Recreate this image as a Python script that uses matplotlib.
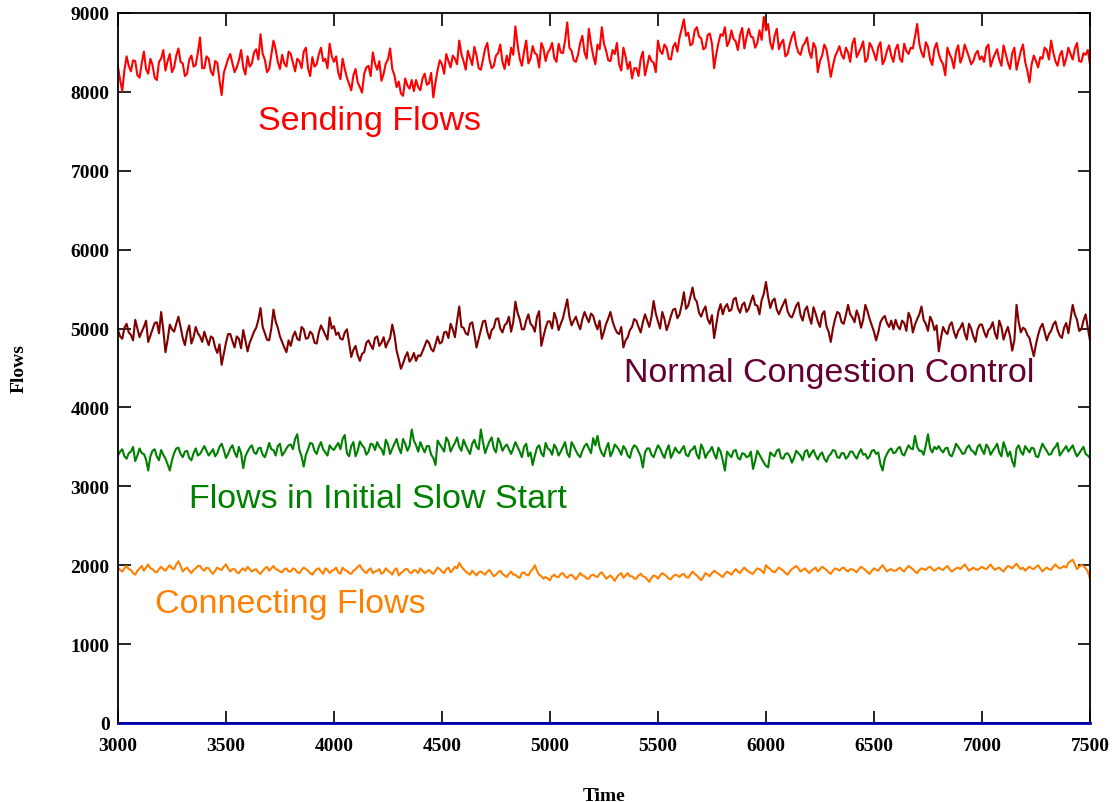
import numpy as np
import matplotlib
matplotlib.use("Agg")
import matplotlib.pyplot as plt

# sampling times (every 10 time units)
time = np.arange(3000, 7501, 10)

sending = [
    8320, 8150, 8010, 8280, 8450, 8330, 8260, 8400, 8390, 8210,
    8180, 8360, 8510, 8290, 8230, 8420, 8340, 8180, 8150, 8380,
    8420, 8530, 8270, 8390, 8480, 8250, 8310, 8460, 8550, 8380,
    8360, 8200, 8230, 8410, 8460, 8320, 8340, 8500, 8690, 8300,
    8300, 8450, 8420, 8260, 8210, 8390, 8370, 8150, 7960, 8240,
    8330, 8420, 8480, 8360, 8250, 8310, 8400, 8530, 8310, 8220,
    8450, 8320, 8360, 8500, 8540, 8410, 8730, 8480, 8410, 8250,
    8290, 8470, 8650, 8540, 8380, 8290, 8470, 8360, 8320, 8510,
    8480, 8370, 8260, 8420, 8390, 8300, 8510, 8560, 8300, 8200,
    8440, 8320, 8350, 8480, 8560, 8390, 8420, 8300, 8610, 8450,
    8380, 8450, 8240, 8160, 8420, 8290, 8180, 8100, 8020, 8210,
    8290, 8120, 8060, 7990, 8230, 8310, 8330, 8200, 8500, 8360,
    8280, 8390, 8140, 8230, 8360, 8410, 8550, 8290, 8210, 8060,
    8130, 7980, 7950, 8170, 8080, 8040, 8150, 8010, 8150, 8060,
    8020, 8170, 8230, 8090, 8110, 8240, 7930, 8120, 8280, 8400,
    8350, 8230, 8480, 8390, 8310, 8460, 8420, 8350, 8650, 8480,
    8390, 8280, 8520, 8430, 8340, 8570, 8460, 8300, 8280, 8410,
    8550, 8620, 8410, 8300, 8330, 8460, 8490, 8600, 8380, 8290,
    8460, 8340, 8560, 8470, 8830, 8600, 8420, 8330, 8510, 8650,
    8360, 8420, 8580, 8490, 8470, 8310, 8620, 8550, 8390, 8500,
    8540, 8620, 8430, 8380, 8610, 8500, 8490, 8650, 8880, 8560,
    8520, 8400, 8380, 8470, 8620, 8710, 8500, 8420, 8800, 8610,
    8460, 8350, 8600, 8540, 8820, 8610, 8520, 8400, 8390, 8530,
    8480, 8620, 8350, 8270, 8560, 8450, 8290, 8380, 8170, 8300,
    8300, 8200, 8420, 8510, 8210, 8330, 8460, 8390, 8370, 8250,
    8650, 8520, 8480, 8600, 8560, 8420, 8410, 8570, 8620, 8510,
    8690, 8800, 8920, 8710, 8750, 8590, 8610, 8780, 8820, 8700,
    8680, 8540, 8560, 8720, 8740, 8610, 8300, 8480, 8620, 8730,
    8710, 8820, 8580, 8640, 8780, 8670, 8640, 8530, 8720, 8810,
    8550, 8690, 8800, 8700, 8690, 8560, 8620, 8780, 8660, 8950,
    8780, 8860, 8620, 8540, 8710, 8800, 8540, 8620, 8660, 8450,
    8480, 8600, 8700, 8760, 8590, 8500, 8470, 8580, 8620, 8690,
    8510, 8430, 8620, 8560, 8250, 8390, 8460, 8600, 8540, 8380,
    8190, 8330, 8450, 8510, 8580, 8470, 8420, 8560, 8500, 8380,
    8610, 8680, 8440, 8500, 8560, 8640, 8380, 8420, 8620, 8570,
    8490, 8400, 8570, 8630, 8350, 8410, 8520, 8590, 8460, 8380,
    8540, 8600, 8420, 8380, 8610, 8520, 8480, 8560, 8550, 8700,
    8860, 8610, 8500, 8440, 8630, 8570, 8410, 8340, 8550, 8620,
    8480, 8400, 8350, 8210, 8560, 8480, 8420, 8300, 8510, 8590,
    8370, 8450, 8600, 8520, 8440, 8350, 8390, 8480, 8520, 8410,
    8450, 8380, 8560, 8600, 8320, 8410, 8480, 8540, 8410, 8330,
    8590, 8480, 8370, 8290, 8490, 8560, 8280, 8400, 8520, 8600,
    8380, 8270, 8120, 8350, 8460, 8390, 8310, 8440, 8420, 8560,
    8530, 8410, 8650, 8500, 8390, 8330, 8460, 8520, 8330, 8420,
    8560, 8480, 8410, 8550, 8620, 8390, 8380, 8490, 8470, 8530,
    8350,
]

normal_cc = [
    4980, 4900, 4870, 5010, 5060, 4950, 4920, 4850, 5110, 5000,
    4890, 4960, 5020, 5100, 4830, 4910, 4990, 5070, 5080, 4940,
    5210, 4980, 4700, 4860, 5050, 4990, 4960, 5060, 5150, 5020,
    4880, 4790, 4950, 5040, 4810, 4890, 5020, 4940, 4900, 4830,
    4960, 4870, 4790, 4900, 4880, 4760, 4690, 4800, 4540, 4680,
    4820, 4930, 4930, 4840, 4760, 4900, 4870, 4750, 4980, 4850,
    4710, 4820, 4890, 4960, 5010, 5110, 5260, 5020, 4940, 4860,
    4850, 5000, 5240, 5090, 5010, 4900, 4830, 4760, 4700, 4850,
    4780, 4900, 4960, 4870, 4850, 5020, 4990, 4870, 4880, 4960,
    4930, 4820, 4810, 4950, 5040, 4980, 4920, 4860, 5140, 5000,
    5030, 4920, 4950, 4870, 4860, 4950, 4990, 4820, 4640, 4730,
    4780, 4660, 4590, 4680, 4700, 4820, 4850, 4790, 4740, 4880,
    4900, 4780, 4820, 4890, 4760, 4830, 4880, 5050, 4920, 4720,
    4610, 4490, 4560, 4640, 4700, 4580, 4620, 4690, 4590, 4660,
    4650, 4710, 4780, 4850, 4820, 4740, 4710, 4800, 4900, 4810,
    4830, 4950, 4960, 4880, 5060, 4990, 4890, 5100, 5280, 5020,
    5010, 4940, 4920, 5060, 5080, 4930, 4760, 4870, 4980, 5090,
    5100, 4960, 4870, 4980, 5010, 5120, 5130, 5000, 4950, 5040,
    5070, 5150, 4960, 5080, 5340, 5200, 5120, 4990, 4990, 5100,
    5180, 5060, 5030, 4960, 5150, 5220, 4780, 4900, 5010, 5090,
    5090, 5000, 5200, 5120, 4980, 5060, 5130, 5250, 5370, 5150,
    5040, 5100, 5150, 5060, 4990, 5120, 5210, 5140, 5080, 5190,
    5160, 5060, 4990, 5100, 4870, 4960, 5060, 5130, 5210, 5090,
    5010, 4950, 4930, 5020, 4760, 4850, 4890, 4980, 5020, 5120,
    5100, 5020, 4950, 5080, 5180, 5100, 5020, 5150, 5350, 5190,
    5090, 5000, 5210, 5120, 4980, 5060, 5160, 5240, 5250, 5130,
    5180, 5300, 5460, 5250, 5290, 5400, 5520, 5380, 5340, 5200,
    5150, 5230, 5280, 5120, 5060, 5170, 4880, 5050, 5220, 5310,
    5180, 5270, 5310, 5220, 5240, 5370, 5390, 5260, 5200, 5300,
    5330, 5210, 5250, 5340, 5420, 5300, 5290, 5180, 5360, 5440,
    5590, 5400, 5260, 5350, 5380, 5240, 5180, 5250, 5310, 5370,
    5220, 5160, 5140, 5210, 5290, 5330, 5170, 5100, 5230, 5280,
    5150, 5060, 5270, 5190, 5090, 5020, 5180, 5220, 5030, 4960,
    4830, 5000, 5120, 5210, 5190, 5080, 5060, 5170, 5300, 5180,
    5140, 5080, 5230, 5150, 5010, 5110, 5300, 5220, 5120, 5040,
    4960, 4850, 4950, 5080, 5130, 5160, 5070, 5020, 5100, 4990,
    5110, 5030, 4990, 5100, 5070, 4970, 5200, 5130, 4950, 5050,
    5120, 5180, 5280, 5110, 5060, 4970, 5150, 5090, 4980, 5040,
    4710, 4880, 5020, 4960, 4930, 5040, 5080, 4960, 4880, 4970,
    5010, 5070, 4940, 4860, 5060, 5000, 4900, 4830, 4990, 5050,
    5050, 4960, 4890, 4980, 5010, 5080, 4940, 4870, 5100, 5020,
    4860, 4950, 5020, 4900, 4720, 4850, 5300, 5080, 4950, 5010,
    4990, 4920, 4880, 4760, 4650, 4800, 4920, 5010, 5060, 4960,
    4850, 4930, 4970, 5050, 5090, 4980, 4910, 4880, 5010, 5070,
    4940, 5120, 5300, 5180, 5110, 4970, 4990, 5100, 5180, 5010,
    4850,
]

slow_start = [
    3390, 3440, 3470, 3380, 3350, 3420, 3440, 3500, 3320, 3390,
    3480, 3420, 3410, 3340, 3200, 3380, 3450, 3470, 3380, 3330,
    3460, 3400, 3350, 3280, 3200, 3330, 3420, 3480, 3490, 3410,
    3370, 3440, 3450, 3360, 3330, 3420, 3480, 3390, 3410, 3460,
    3510, 3450, 3390, 3430, 3470, 3380, 3420, 3500, 3540, 3460,
    3360, 3410, 3480, 3520, 3430, 3370, 3500, 3420, 3230, 3380,
    3440, 3490, 3520, 3430, 3410, 3480, 3490, 3400, 3370, 3450,
    3550, 3470, 3460, 3390, 3510, 3540, 3390, 3430, 3480, 3520,
    3530, 3470, 3600, 3660, 3460, 3380, 3250, 3400, 3470, 3550,
    3540, 3450, 3410, 3500, 3560, 3470, 3430, 3390, 3520, 3480,
    3460, 3510, 3550, 3470, 3600, 3650, 3420, 3380, 3510, 3560,
    3380, 3450, 3570, 3520, 3490, 3400, 3440, 3540, 3530, 3460,
    3560, 3500, 3470, 3400, 3590, 3530, 3410, 3480, 3540, 3600,
    3490, 3420, 3600, 3540, 3450, 3510, 3720, 3580, 3520, 3440,
    3560, 3490, 3430, 3510, 3510, 3400, 3360, 3270, 3580, 3530,
    3490, 3440, 3620, 3570, 3440, 3500, 3550, 3620, 3500, 3450,
    3590, 3520, 3460, 3410, 3540, 3590, 3500, 3470, 3720, 3560,
    3420, 3500, 3570, 3620, 3480, 3430, 3610, 3550, 3450, 3500,
    3530, 3470, 3410, 3480, 3560, 3500, 3440, 3370, 3500, 3540,
    3380, 3430, 3270, 3390, 3490, 3520, 3420, 3380, 3550, 3480,
    3460, 3400, 3530, 3480, 3390, 3440, 3500, 3560, 3420, 3370,
    3560, 3510, 3450, 3400, 3370, 3450, 3510, 3540, 3480, 3420,
    3610, 3520, 3640, 3490, 3420, 3380, 3480, 3550, 3380, 3440,
    3530, 3500, 3460, 3400, 3510, 3470, 3390, 3360, 3470, 3520,
    3500, 3440, 3380, 3240, 3430, 3480, 3480, 3400, 3370, 3450,
    3520, 3480, 3410, 3360, 3460, 3520, 3360, 3420, 3490, 3440,
    3420, 3470, 3510, 3400, 3380, 3450, 3470, 3510, 3400, 3350,
    3530, 3470, 3360, 3420, 3450, 3500, 3410, 3350, 3490, 3440,
    3330, 3200, 3440, 3400, 3370, 3450, 3460, 3360, 3340, 3420,
    3410, 3370, 3380, 3440, 3220, 3320, 3450, 3400, 3350, 3300,
    3260, 3240, 3430, 3400, 3380, 3450, 3470, 3360, 3350, 3410,
    3420, 3380, 3300, 3360, 3450, 3420, 3390, 3330, 3440, 3460,
    3370, 3420, 3460, 3390, 3340, 3400, 3430, 3350, 3310, 3380,
    3410, 3460, 3450, 3370, 3360, 3420, 3420, 3350, 3380, 3440,
    3440, 3390, 3350, 3420, 3470, 3400, 3410, 3350, 3380, 3450,
    3460, 3410, 3430, 3280, 3200, 3350, 3410, 3460, 3480, 3420,
    3430, 3480, 3500, 3410, 3390, 3460, 3520, 3480, 3470, 3640,
    3500, 3450, 3450, 3400, 3520, 3660, 3480, 3430, 3500, 3470,
    3510, 3460, 3430, 3480, 3490, 3400, 3380, 3450, 3540, 3500,
    3460, 3410, 3420, 3490, 3520, 3460, 3440, 3400, 3500, 3530,
    3460, 3410, 3530, 3490, 3400, 3450, 3490, 3540, 3430, 3380,
    3560, 3480, 3380, 3440, 3320, 3250, 3480, 3520, 3440, 3400,
    3510, 3470, 3430, 3490, 3480, 3380, 3370, 3460, 3540, 3490,
    3450, 3400, 3410, 3470, 3500, 3550, 3390, 3430, 3470, 3510,
    3440, 3480, 3520, 3440, 3380, 3420, 3460, 3500, 3410, 3390,
    3360,
]

connecting = [
    1970, 1940, 1920, 1960, 1990, 1950, 1940, 1900, 1880, 1930,
    1960, 1990, 1930, 1970, 2010, 1960, 1950, 1920, 1910, 1950,
    1980, 1950, 1930, 1970, 2000, 1960, 1950, 2010, 2050, 1990,
    1920, 1950, 1970, 1930, 1900, 1940, 1960, 1990, 1990, 1950,
    1930, 1970, 1960, 1920, 1890, 1930, 1970, 1950, 1940, 1980,
    2010, 1960, 1920, 1950, 1950, 1910, 1900, 1940, 1960, 1930,
    1980, 1950, 1920, 1940, 1950, 1910, 1890, 1930, 1960, 1980,
    1930, 1960, 1990, 1950, 1940, 1920, 1910, 1950, 1960, 1920,
    1920, 1960, 1950, 1910, 1900, 1940, 1970, 1950, 1930, 1900,
    1880, 1920, 1950, 1960, 1920, 1890, 1960, 1940, 1900, 1930,
    1940, 1970, 1910, 1890, 1970, 1940, 1930, 1900, 1890, 1930,
    1950, 1980, 2000, 1950, 1920, 1900, 1940, 1960, 1900, 1920,
    1930, 1950, 1890, 1910, 1960, 1930, 1910, 1880, 1940, 1960,
    1870, 1900, 1920, 1950, 1950, 1910, 1900, 1940, 1930, 1900,
    1960, 1930, 1900, 1920, 1940, 1910, 1890, 1930, 1970, 1950,
    1920, 1900, 1950, 1970, 1910, 1940, 1980, 1960, 2030, 1980,
    1950, 1920, 1900, 1880, 1930, 1900, 1870, 1910, 1920, 1900,
    1880, 1920, 1940, 1900, 1860, 1880, 1910, 1930, 1890, 1870,
    1850, 1890, 1920, 1880, 1880, 1850, 1840, 1900, 1910, 1880,
    1870, 1920, 1950, 2000, 1930, 1880, 1860, 1830, 1850, 1830,
    1810, 1860, 1880, 1850, 1850, 1890, 1900, 1860, 1840, 1870,
    1880, 1850, 1820, 1860, 1900, 1870, 1860, 1830, 1830, 1870,
    1880, 1860, 1850, 1890, 1910, 1870, 1830, 1850, 1870, 1840,
    1800, 1850, 1880, 1900, 1840, 1870, 1900, 1860, 1860, 1830,
    1830, 1870, 1890, 1860, 1850, 1820, 1790, 1840, 1870, 1860,
    1830, 1870, 1900, 1880, 1860, 1830, 1820, 1860, 1880, 1870,
    1850, 1880, 1890, 1850, 1840, 1880, 1920, 1890, 1870, 1840,
    1810, 1850, 1900, 1880, 1860, 1900, 1930, 1910, 1890, 1870,
    1850, 1890, 1920, 1900, 1880, 1920, 1950, 1920, 1900, 1940,
    1970, 1940, 1920, 1900, 1890, 1930, 1960, 1950, 1930, 1900,
    2000, 1970, 1950, 1920, 1910, 1940, 1970, 1950, 1930, 1900,
    1880, 1920, 1950, 1970, 1990, 1960, 1920, 1940, 1960, 1930,
    1900, 1930, 1950, 1970, 1920, 1950, 1980, 1960, 1940, 1910,
    1890, 1930, 1960, 1950, 1930, 1960, 1970, 1940, 1920, 1950,
    1950, 1930, 1910, 1950, 1980, 1960, 1940, 1910, 1890, 1930,
    1960, 1940, 1930, 1970, 2000, 1960, 1920, 1940, 1950, 1930,
    1930, 1950, 1970, 1940, 1920, 1960, 1990, 1970, 1950, 1920,
    1900, 1940, 1960, 1950, 1940, 1970, 1980, 1950, 1930, 1950,
    1970, 1950, 1940, 1970, 1990, 1950, 1920, 1940, 1960, 1970,
    1950, 1980, 2010, 1970, 1930, 1950, 1970, 1950, 1940, 1960,
    1980, 1960, 1950, 1980, 2010, 1970, 1940, 1960, 1970, 1940,
    1920, 1960, 1990, 1980, 1960, 1990, 2020, 1980, 1950, 1970,
    1930, 1960, 1980, 1960, 1950, 1980, 2000, 1960, 1920, 1950,
    1970, 1950, 1940, 1980, 2010, 1980, 1960, 1970, 1990, 1970,
    2030, 2050, 2070, 2010, 1950, 1980, 2000, 1990, 1960, 1920,
    1830,
]

# flows that are idle: none during the whole run
idle = [0] * len(time)

fig = plt.figure(figsize=(11.17, 8.03), dpi=100)
ax = fig.add_axes([0.1056, 0.0984, 0.8702, 0.8842])

ax.plot(time, sending, color="#ff0000", lw=1.5)
ax.plot(time, normal_cc, color="#800000", lw=1.5)
ax.plot(time, slow_start, color="#008000", lw=1.5)
ax.plot(time, connecting, color="#ff8000", lw=1.5)
ax.plot(time, idle, color="#0000b0", lw=2.0, clip_on=False, zorder=5)

ax.set_xlim(3000, 7500)
ax.set_ylim(0, 9000)
ax.set_xticks(np.arange(3000, 7501, 500))
ax.set_yticks(np.arange(0, 9001, 1000))

tick_font = dict(family="Liberation Serif", weight="bold", size=14)
ax.tick_params(direction="in", length=9, width=1.2, top=True, right=True,
               colors="black")
ax.tick_params(axis="x", pad=10)
ax.tick_params(axis="y", pad=6)
for lab in ax.get_xticklabels() + ax.get_yticklabels():
    lab.set_fontfamily("Liberation Serif")
    lab.set_fontweight("bold")
    lab.set_fontsize(14)
for sp in ax.spines.values():
    sp.set_linewidth(1.3)

ax.set_xlabel("Time", fontdict=tick_font, labelpad=24)
ax.set_ylabel("Flows", fontdict=tick_font, labelpad=31)

label_font = dict(family="Liberation Sans", size=24.5)
ax.text(3648, 7632, "Sending Flows", color="#ff0000", va="center", **label_font)
ax.text(5343, 4447, "Normal Congestion Control", color="#660033", va="center", **label_font)
ax.text(3329, 2840, "Flows in Initial Slow Start", color="#008000", va="center", **label_font)
ax.text(3171, 1509, "Connecting Flows", color="#ff8000", va="center", **label_font)

fig.savefig("out.png", dpi=100)
